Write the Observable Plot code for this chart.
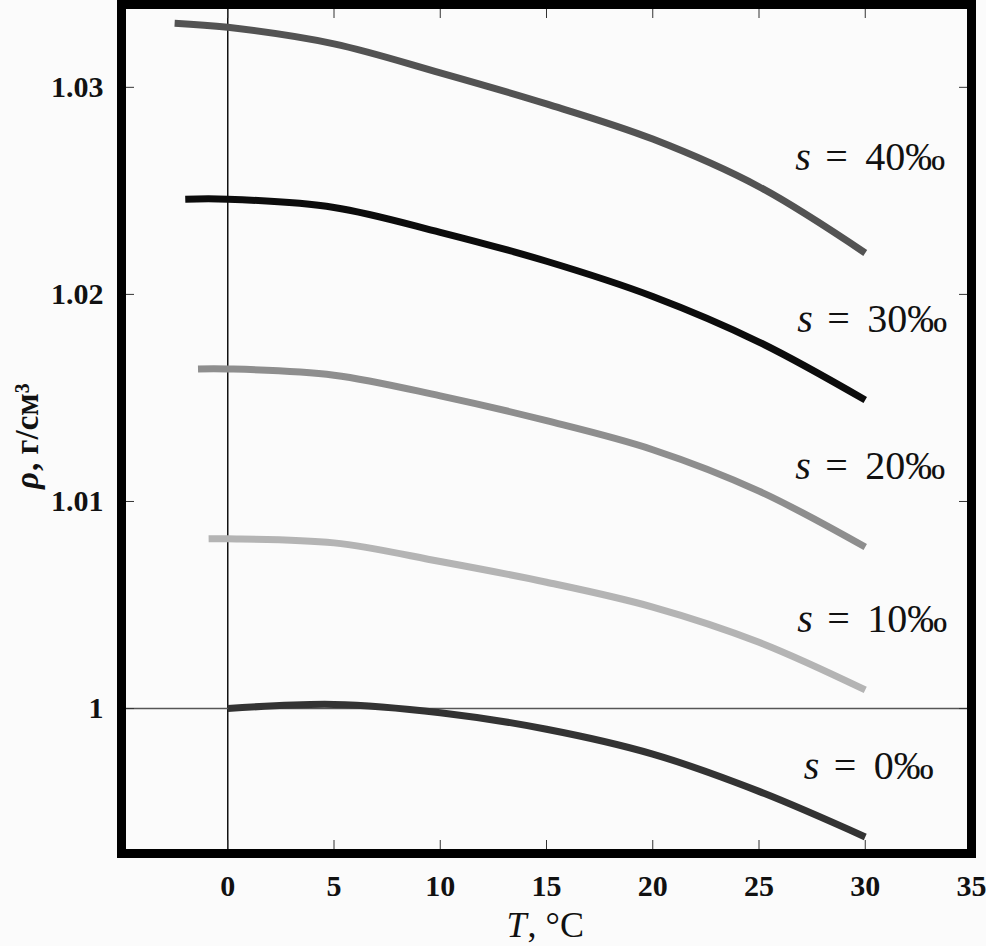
<!DOCTYPE html>
<html>
<head>
<meta charset="utf-8">
<script src="https://cdn.jsdelivr.net/npm/d3@7"></script>
<script src="https://cdn.jsdelivr.net/npm/@observablehq/plot@0.6"></script>
<style>
  html, body { margin: 0; padding: 0; background: #fbfbfb; }
  #chart svg { display: block; }
</style>
</head>
<body>
<div id="chart"></div>
<script>
// Temperature (°C) and density (g/cm³), one pair per salinity
const s40T = [-2.5, 0, 5, 10, 15, 20, 25, 30];
const s40R = [1.0331, 1.0329, 1.0321, 1.0307, 1.0292, 1.0275, 1.0252, 1.0220];
const s30T = [-2, 0, 5, 10, 15, 20, 25, 30];
const s30R = [1.0246, 1.0246, 1.0242, 1.0230, 1.0216, 1.0199, 1.0177, 1.0149];
const s20T = [-1.4, 0, 5, 10, 15, 20, 25, 30];
const s20R = [1.0164, 1.0164, 1.0161, 1.0151, 1.0139, 1.0125, 1.0105, 1.0078];
const s10T = [-0.9, 0, 5, 10, 15, 20, 25, 30];
const s10R = [1.0082, 1.0082, 1.0080, 1.0071, 1.0061, 1.0049, 1.0032, 1.0009];
const s0T = [0, 5, 10, 15, 20, 25, 30];
const s0R = [1.0000, 1.0002, 0.9998, 0.9990, 0.9978, 0.9960, 0.9938];

const salinities = ["40", "30", "20", "10", "0"];
const seriesColors = ["#535353", "#0c0c0c", "#8e8e8e", "#b4b4b4", "#333333"];
// label anchor positions (T, ρ) for the "s = N‰" annotations
const labelT = [26.7, 26.8, 26.7, 26.8, 27.1];
const labelR = [1.02665, 1.01880, 1.01170, 1.00430, 0.99720];

const xTicks = [0, 5, 10, 15, 20, 25, 30, 35];
const yTicks = [1, 1.01, 1.02, 1.03];
const yTickLabels = ["1", "1.01", "1.02", "1.03"];

const allT = [s40T, s30T, s20T, s10T, s0T];
const allR = [s40R, s30R, s20R, s10R, s0R];
const rows = [];
salinities.forEach((s, i) => {
  allT[i].forEach((t, j) => rows.push({s, T: t, rho: allR[i][j]}));
});
const labels = salinities.map((s, i) => ({s, T: labelT[i], rho: labelR[i]}));

const serif = "'Liberation Serif', 'DejaVu Serif', serif";

const chart = Plot.plot({
  width: 986,
  height: 946,
  marginLeft: 121,
  marginRight: 15,
  marginTop: 4,
  marginBottom: 93,
  style: {background: "#fbfbfb", fontFamily: serif},
  x: {domain: [-5, 35], axis: null},
  y: {domain: [0.993, 1.034], axis: null},
  color: {domain: salinities, range: seriesColors},
  marks: [
    // reference lines
    Plot.ruleX([0], {stroke: "#111", strokeWidth: 1.5}),
    Plot.ruleY([1], {stroke: "#555", strokeWidth: 1.5}),
    // inner ticks on all four sides
    Plot.axisX(xTicks, {anchor: "bottom", label: null, tickSize: -13, tickFormat: () => "", stroke: "#333", strokeWidth: 1}),
    Plot.axisX(xTicks, {anchor: "top", label: null, tickSize: -13, tickFormat: () => "", stroke: "#333", strokeWidth: 1}),
    Plot.axisY(yTicks, {anchor: "left", label: null, tickSize: -13, tickFormat: () => "", stroke: "#333", strokeWidth: 1}),
    Plot.axisY(yTicks, {anchor: "right", label: null, tickSize: -13, tickFormat: () => "", stroke: "#333", strokeWidth: 1}),
    // tick labels
    Plot.axisX(xTicks, {anchor: "bottom", label: null, tickSize: 0, tickPadding: 21, fontSize: 30, fontWeight: "bold", fill: "#111", fontFamily: serif}),
    Plot.axisY(yTicks, {anchor: "left", label: null, tickSize: 0, tickPadding: 18, fontSize: 30, fontWeight: "bold", fill: "#111", fontFamily: serif,
      tickFormat: (d) => yTickLabels[yTicks.indexOf(d)]}),
    // curves
    Plot.line(rows, {x: "T", y: "rho", z: "s", stroke: "s", strokeWidth: 7, curve: "catmull-rom", strokeLinecap: "butt"}),
    // annotations s = N‰
    Plot.text(labels, {x: "T", y: "rho", text: () => "s", textAnchor: "start", lineAnchor: "middle",
      fontSize: 40, fontStyle: "italic", fontFamily: serif, fill: "#111"}),
    Plot.text(labels, {x: "T", y: "rho", text: () => "=", textAnchor: "start", lineAnchor: "middle", dx: 30,
      fontSize: 40, fontFamily: serif, fill: "#111"}),
    Plot.text(labels, {x: "T", y: "rho", text: (d) => d.s + "‰", textAnchor: "start", lineAnchor: "middle", dx: 70,
      fontSize: 40, fontFamily: serif, fill: "#111"}),
    // axis titles
    Plot.text(["T"], {frameAnchor: "bottom", dx: -40, dy: 72, textAnchor: "start", lineAnchor: "middle",
      fontSize: 36, fontStyle: "italic", fontFamily: serif, fill: "#111"}),
    Plot.text([", °C"], {frameAnchor: "bottom", dx: -19, dy: 72, textAnchor: "start", lineAnchor: "middle",
      fontSize: 36, fontFamily: serif, fill: "#111"}),
    Plot.text(["ρ"], {frameAnchor: "left", dx: -94, dy: 60, rotate: -90, textAnchor: "start", lineAnchor: "middle",
      fontSize: 33, fontStyle: "italic", fontWeight: "bold", fontFamily: serif, fill: "#111"}),
    Plot.text([", г/см³"], {frameAnchor: "left", dx: -94, dy: 42, rotate: -90, textAnchor: "start", lineAnchor: "middle",
      fontSize: 33, fontWeight: "bold", fontFamily: serif, fill: "#111"}),
    // thick frame
    Plot.frame({stroke: "#000", strokeWidth: 9})
  ]
});
document.getElementById("chart").appendChild(chart);
</script>
</body>
</html>
